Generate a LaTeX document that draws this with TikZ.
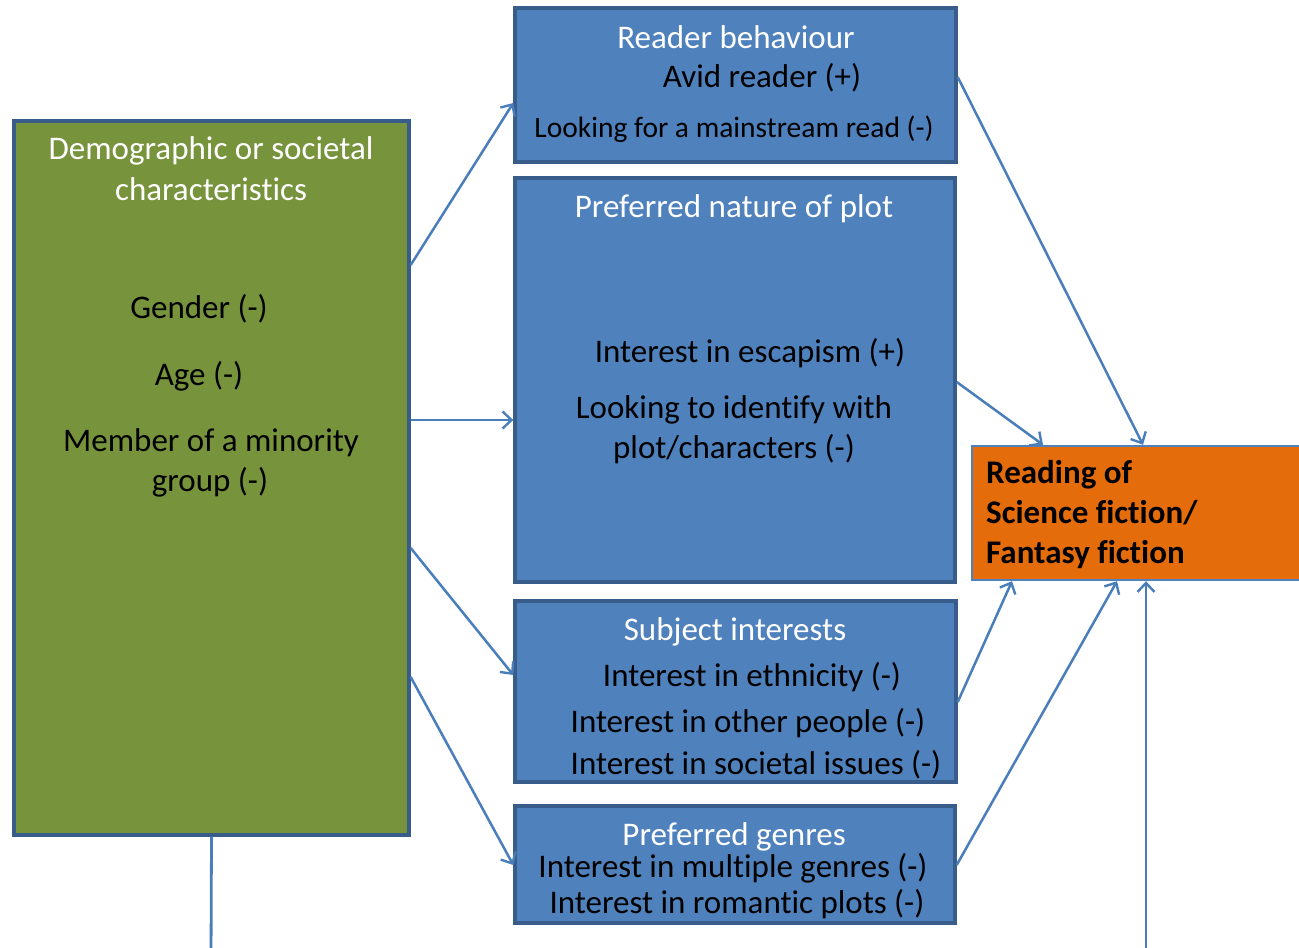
\documentclass[tikz,border=0pt]{standalone}
\usepackage{fontspec}
\setmainfont{Carlito}[Ligatures=NoCommon]
\usetikzlibrary{arrows.meta}
\definecolor{boxblue}{HTML}{4F81BD}
\definecolor{edgeblue}{HTML}{385D8A}
\definecolor{olive}{HTML}{77933C}
\definecolor{orangefill}{HTML}{E46C0A}
\definecolor{linkblue}{HTML}{4A7EBB}
\tikzset{
  x=1pt, y=-1pt,
  bluebox/.style={draw=edgeblue, fill=boxblue, line width=3.4pt, inner sep=0pt},
  greenbox/.style={draw=edgeblue, fill=olive, line width=3.4pt, inner sep=0pt},
  targetbox/.style={draw=boxblue, fill=orangefill, line width=2.4pt, inner sep=0pt},
  head/.style={text=white, font=\fontsize{33}{39}\selectfont, inner sep=0pt, yshift=-1.5pt},
  item/.style={text=black, font=\fontsize{33}{39}\selectfont, inner sep=0pt, yshift=-1.5pt},
  small/.style={text=black, font=\fontsize{29.5}{35}\selectfont, inner sep=0pt, yshift=-1.5pt},
  link/.style={draw=linkblue, line width=2.5pt, -{Straight Barb[length=9pt, width=17pt, line width=2.4pt]}},
  plain/.style={draw=linkblue, line width=2.8pt},
}
\begin{document}
\begin{tikzpicture}
\useasboundingbox (0,0) rectangle (1299,948);

% boxes
\node[greenbox, minimum width=395pt, minimum height=714pt] (demo) at (211.5,478) {};
\node[bluebox, minimum width=441pt, minimum height=154pt] (reader) at (735.5,85) {};
\node[bluebox, minimum width=440pt, minimum height=404pt] (plot) at (735,380) {};
\node[bluebox, minimum width=441pt, minimum height=181pt] (subject) at (735.5,691.5) {};
\node[bluebox, minimum width=440pt, minimum height=117pt] (genres) at (735,864.5) {};
\node[targetbox, minimum width=345pt, minimum height=134pt] (target) at (1144.5,513) {};

% demographic texts
\node[head] (demoA) at (211,149) {Demographic or societal};
\node[head] (demoB) at (211,188) {characteristics};
\node[item] (gender) at (199,307) {Gender (-)};
\node[item] (age) at (199,375) {Age (-)};
\node[item] (minA) at (211,441) {Member of a minority};
\node[item] (minB) at (210,481) {group (-)};

% reader behaviour texts
\node[head] (readerH) at (736,36) {Reader behaviour};
\node[item] (avid) at (762,76) {Avid reader (+)};
\node[small] (mainstream) at (734,128) {Looking for a mainstream read (-)};

% plot texts
\node[head] (plotH) at (734,207) {Preferred nature of plot};
\node[item] (escape) at (750,352) {Interest in escapism (+)};
\node[item] (identA) at (734,408) {Looking to identify with};
\node[item] (identB) at (734,448) {plot/characters (-)};

% subject texts
\node[head] (subjectH) at (735,630) {Subject interests};
\node[item] (ethnic) at (752,676) {Interest in ethnicity (-)};
\node[item] (people) at (748,722) {Interest in other people (-)};
\node[item] (issues) at (756,763) {Interest in societal issues (-)};

% genre texts
\node[head] (genresH) at (734,835) {Preferred genres};
\node[item] (multi) at (733,867) {Interest in multiple genres (-)};
\node[item] (romance) at (737,903) {Interest in romantic plots (-)};

% outcome text
\node[text=black, font=\fontsize{33}{40}\selectfont\bfseries, align=left, anchor=west, inner sep=0pt] (targetT) at (986,515)
  {Reading of\\Science fiction/\\Fantasy fiction};

% free ends leaving the picture
\coordinate (demoOut) at (211,960);
\coordinate (extIn) at (1146,960);

% connectors
\draw[link] (demo.east |- 0,265) -- (reader.west |- 0,103);
\draw[link] (demo.east |- 0,420) -- (plot.west |- 0,420);
\draw[link] (demo.east |- 0,548) -- (subject.west |- 0,675);
\draw[link] (demo.east |- 0,677) -- (genres.west |- 0,865);
\draw[link] (reader.east |- 0,77) -- (target.north -| 1143,0);
\draw[link] (plot.east |- 0,382) -- (target.north -| 1043,0);
\draw[link] (subject.east |- 0,702) -- (target.south -| 1012,0);
\draw[link] (genres.east |- 0,865) -- (target.south -| 1117,0);
\draw[link] (extIn) -- (target.south -| 1146,0);
\draw[plain] (demo.south) -- (demoOut);
\end{tikzpicture}
\end{document}
